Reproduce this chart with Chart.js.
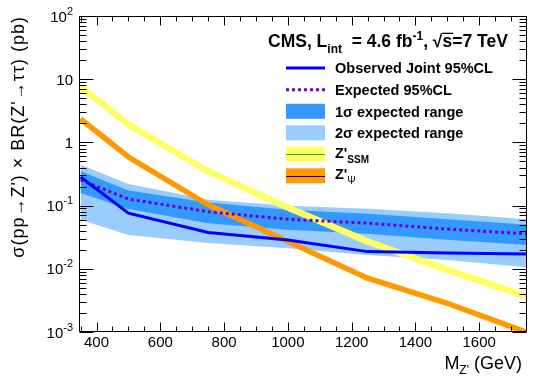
<!DOCTYPE html>
<html><head><meta charset="utf-8">
<script src="https://cdn.jsdelivr.net/npm/chart.js@4/dist/chart.umd.min.js"></script>
<style>html,body{margin:0;padding:0;background:#fff;}canvas{display:block;}</style>
</head><body>
<canvas id="c" width="533" height="380"></canvas>
<script>
// ---- data ----
const masses = [350, 500, 750, 1000, 1250, 1500, 1750];
const observed = [0.283, 0.076, 0.0375, 0.0285, 0.0187, 0.0178, 0.0172];
const expected = [0.256, 0.127, 0.08, 0.0607, 0.0528, 0.0425, 0.0357];
const oneSigmaUp = [0.35, 0.173, 0.112, 0.0858, 0.0742, 0.061, 0.0497];
const oneSigmaDown = [0.158, 0.088, 0.0528, 0.0414, 0.0357, 0.0287, 0.0239];
const twoSigmaUp = [0.443, 0.219, 0.124, 0.0993, 0.089, 0.076, 0.061];
const twoSigmaDown = [0.0596, 0.0344, 0.0255, 0.0212, 0.0166, 0.0138, 0.0106];
const zSSM = [7.55, 1.91, 0.347, 0.093, 0.027, 0.0096, 0.00363];
const zPsi = [2.35, 0.587, 0.103, 0.027, 0.0071, 0.00285, 0.00098];

const xTickLabels = [400, 600, 800, 1000, 1200, 1400, 1600];
const yTickBases = ['10', '10', '1', '10', '10', '10'];
const yTickExps = ['2', '', '', '-1', '-2', '-3'];
const yTickValues = [100, 10, 1, 0.1, 0.01, 0.001];
const legendLabels = ['Observed Joint 95%CL', 'Expected 95%CL', '1\u03c3 expected range', '2\u03c3 expected range', "Z'", "Z'"];
const legendSubs = ['', '', '', '', 'SSM', '\u03a8'];

const FONT = '"Liberation Sans", Arial, Helvetica, sans-serif';
const C_OBS = '#0000ff', C_EXP = '#6f00cf', C_1S = '#3399ff', C_2S = '#99ccff', C_SSM = '#ffff66', C_PSI = '#ff9900';

const pts = arr => masses.map((m, i) => ({x: m, y: arr[i]}));

function setFont(ctx, s) { ctx.font = (s.bold ? 'bold ' : '') + s.size + 'px ' + FONT; }
function richText(ctx, x, y, segs, align) {
  let total = 0;
  const w = segs.map(s => { setFont(ctx, s); const m = ctx.measureText(s.t).width; total += m; return m; });
  let cx = align === 'right' ? x - total : (align === 'center' ? x - total / 2 : x);
  ctx.textAlign = 'left';
  segs.forEach((s, i) => {
    setFont(ctx, s);
    ctx.fillText(s.t, cx, y + (s.dy || 0));
    if (s.over) {
      ctx.save(); ctx.lineWidth = 1.3; ctx.beginPath();
      ctx.moveTo(cx, y - s.size * 0.78); ctx.lineTo(cx + w[i] + 1, y - s.size * 0.78); ctx.stroke(); ctx.restore();
    }
    cx += w[i];
  });
  return total;
}

const decor = {
  id: 'decor',
  afterDraw(chart) {
    const ctx = chart.ctx, a = chart.chartArea, xs = chart.scales.x, ys = chart.scales.y;
    ctx.save();
    ctx.strokeStyle = '#000'; ctx.fillStyle = '#000'; ctx.lineWidth = 1;
    const L = Math.round(a.left) + 0.5, R = Math.round(a.right) - 0.5, T = Math.round(a.top) + 0.5, B = Math.round(a.bottom) - 0.5;
    ctx.beginPath();
    ctx.rect(L, T, R - L, B - T);
    // x ticks (every 50, major every 200)
    for (let v = 350; v <= 1750; v += 50) {
      const px = Math.round(xs.getPixelForValue(v)) + 0.5;
      if (px <= L + 0.5 || px >= R - 0.5) continue;
      const len = (v % 200 === 0) ? 9 : 5;
      ctx.moveTo(px, B); ctx.lineTo(px, B - len);
      ctx.moveTo(px, T); ctx.lineTo(px, T + len);
    }
    // y ticks (log)
    for (let e = -3; e <= 2; e++) {
      for (let k = 1; k <= 9; k++) {
        const v = k * Math.pow(10, e);
        if (v > 100.0001) continue;
        const py = Math.round(ys.getPixelForValue(v)) + 0.5;
        const len = (k === 1) ? 14 : 7;
        ctx.moveTo(L, py); ctx.lineTo(L + len, py);
        ctx.moveTo(R, py); ctx.lineTo(R - len, py);
      }
    }
    ctx.stroke();

    // x tick labels
    ctx.textBaseline = 'alphabetic';
    xTickLabels.forEach(v => {
      richText(ctx, xs.getPixelForValue(v), 347, [{t: String(v), size: 15}], 'center');
    });
    // y tick labels
    yTickValues.forEach((v, i) => {
      const py = ys.getPixelForValue(v);
      const segs = [{t: yTickBases[i], size: 15}];
      if (yTickExps[i]) segs.push({t: yTickExps[i], size: 11, dy: -7});
      richText(ctx, 73, py + 5.5, segs, 'right');
    });
    // x title
    richText(ctx, 522, 369, [{t: 'M', size: 18}, {t: "Z'", size: 12, dy: 5}, {t: ' (GeV)', size: 18}], 'right');
    // y title
    ctx.save();
    ctx.translate(24, 16);
    ctx.rotate(-Math.PI / 2);
    try { ctx.letterSpacing = '1px'; } catch (e) {}
    richText(ctx, 0, 0, [{t: "\u03c3(pp\u2192Z') \u00d7 BR(Z'\u2192\u03c4\u03c4) (pb)", size: 18}], 'right');
    try { ctx.letterSpacing = '0px'; } catch (e) {}
    ctx.restore();

    // header text
    richText(ctx, 268, 47, [
      {t: 'CMS, L', size: 17.5, bold: true},
      {t: 'int', size: 12, bold: true, dy: 6},
      {t: '  = 4.6 fb', size: 17.5, bold: true},
      {t: '-1', size: 12, bold: true, dy: -7},
      {t: ', \u221a', size: 17.5, bold: true},
      {t: 's', size: 17.5, bold: true, over: true},
      {t: '=7 TeV', size: 17.5, bold: true}
    ], 'left');

    // legend
    const rowY = [68, 89.7, 111.3, 132.8, 154.3, 175.8];
    const sx0 = 286, sx1 = 325, tx = 335;
    rowY.forEach((y, i) => {
      if (i === 0) {
        ctx.strokeStyle = C_OBS; ctx.lineWidth = 3; ctx.setLineDash([]);
        ctx.beginPath(); ctx.moveTo(sx0, y); ctx.lineTo(sx1, y); ctx.stroke();
      } else if (i === 1) {
        ctx.strokeStyle = C_EXP; ctx.lineWidth = 3; ctx.setLineDash([3, 3]);
        ctx.beginPath(); ctx.moveTo(sx0, y); ctx.lineTo(sx1, y); ctx.stroke(); ctx.setLineDash([]);
      } else {
        const col = [null, null, C_1S, C_2S, C_SSM, C_PSI][i];
        ctx.fillStyle = col; ctx.fillRect(sx0, y - 7.5, sx1 - sx0, 15);
        if (i >= 4) {
          ctx.strokeStyle = i === 4 ? '#5aa01e' : '#000'; ctx.lineWidth = 1;
          ctx.beginPath(); ctx.moveTo(sx0, Math.round(y) + 0.5); ctx.lineTo(sx1, Math.round(y) + 0.5); ctx.stroke();
        }
      }
      ctx.fillStyle = '#000';
      const segs = [{t: legendLabels[i], size: 14.5, bold: true}];
      if (legendSubs[i]) segs.push({t: legendSubs[i], size: 10, bold: i === 4, dy: 5});
      richText(ctx, tx, y + 5.2 - (legendSubs[i] ? 2 : 0), segs, 'left');
    });
    ctx.restore();
  }
};

new Chart(document.getElementById('c'), {
  type: 'line',
  data: {
    datasets: [
      {label: 'obs', data: pts(observed), borderColor: C_OBS, borderWidth: 3, pointRadius: 0, fill: false, order: 1, clip: 0},
      {label: 'exp', data: pts(expected), borderColor: C_EXP, borderWidth: 3, borderDash: [3, 3], pointRadius: 0, fill: false, order: 2, clip: 0},
      {label: 'psi', data: pts(zPsi), borderColor: C_PSI, borderWidth: 5.5, pointRadius: 0, fill: false, order: 3, clip: 0, borderCapStyle: 'butt'},
      {label: 'ssm', data: pts(zSSM), borderColor: C_SSM, borderWidth: 6.5, pointRadius: 0, fill: false, order: 4, clip: 0, borderCapStyle: 'butt'},
      {label: '1s up', data: pts(oneSigmaUp), borderWidth: 0, borderColor: 'rgba(0,0,0,0)', backgroundColor: C_1S, pointRadius: 0, fill: '+1', order: 5, clip: 0},
      {label: '1s down', data: pts(oneSigmaDown), borderWidth: 0, borderColor: 'rgba(0,0,0,0)', pointRadius: 0, fill: false, order: 6, clip: 0},
      {label: '2s up', data: pts(twoSigmaUp), borderWidth: 0, borderColor: 'rgba(0,0,0,0)', backgroundColor: C_2S, pointRadius: 0, fill: '+1', order: 7, clip: 0},
      {label: '2s down', data: pts(twoSigmaDown), borderWidth: 0, borderColor: 'rgba(0,0,0,0)', pointRadius: 0, fill: false, order: 8, clip: 0}
    ]
  },
  options: {
    responsive: false,
    animation: false,
    devicePixelRatio: 1,
    layout: {padding: {left: 79, right: 6, top: 16, bottom: 48}},
    plugins: {legend: {display: false}, tooltip: {enabled: false}, title: {display: false}},
    elements: {line: {tension: 0}},
    scales: {
      x: {type: 'linear', min: 345, max: 1750, display: false},
      y: {type: 'logarithmic', min: 0.001, max: 100, display: false}
    }
  },
  plugins: [decor]
});
</script>
</body></html>
